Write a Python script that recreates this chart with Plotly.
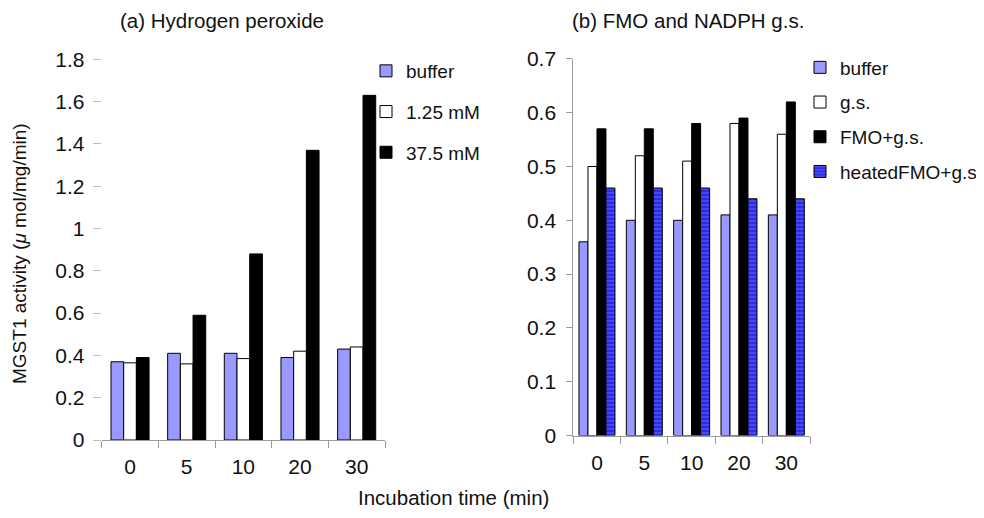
import plotly.graph_objects as go

# ---------------- data ----------------
times = ["0", "5", "10", "20", "30"]

# (a) Hydrogen peroxide
h2o2_buffer = [0.37, 0.41, 0.41, 0.39, 0.43]
h2o2_125 = [0.365, 0.36, 0.385, 0.42, 0.44]
h2o2_375 = [0.39, 0.59, 0.88, 1.37, 1.63]

# (b) FMO and NADPH g.s.
fmo_buffer = [0.36, 0.40, 0.40, 0.41, 0.41]
fmo_gs = [0.50, 0.52, 0.51, 0.58, 0.56]
fmo_fmo_gs = [0.57, 0.57, 0.58, 0.59, 0.62]
fmo_heated = [0.46, 0.46, 0.46, 0.44, 0.44]

ticks_a = [0, 0.2, 0.4, 0.6, 0.8, 1, 1.2, 1.4, 1.6, 1.8]
ticks_b = [0, 0.1, 0.2, 0.3, 0.4, 0.5, 0.6, 0.7]

W, H = 984, 518
OFF = 8  # page body margin of the html page
FONT = "Liberation Sans, Arial, sans-serif"
LAV = "#9999ff"
BLUE = "#2a2ae6"
GRAY = "#9a9a9a"


def px_x(p):
    return (p - OFF) / W


def px_y(p):
    return 1 - (p - OFF) / H


fig = go.Figure()

# ---- panel (a) ----
wa = 0.224
series_a = [
    ("buffer", h2o2_buffer, LAV, -1.5 * wa),
    ("1.25 mM", h2o2_125, "white", -0.5 * wa),
    ("37.5 mM", h2o2_375, "black", 0.5 * wa),
]
for name, vals, col, off in series_a:
    fig.add_trace(go.Bar(
        x=times, y=vals, name=name, xaxis="x", yaxis="y",
        width=wa, offset=off,
        marker=dict(color=col, line=dict(color="black", width=1)),
        legend="legend", legendgroup="a_" + name,
    ))

# ---- panel (b) ----
wb = 0.19
series_b = [
    ("buffer", fmo_buffer, LAV, -2 * wb, None),
    ("g.s.", fmo_gs, "white", -1 * wb, None),
    ("FMO+g.s.", fmo_fmo_gs, "black", 0, None),
    ("heatedFMO+g.s", fmo_heated, BLUE, wb,
     dict(shape="-", fgcolor="#a8a8ff", bgcolor=BLUE, size=4, solidity=0.25)),
]
for name, vals, col, off, pat in series_b:
    mk = dict(color=col, line=dict(color="black", width=1))
    if pat:
        mk["pattern"] = pat
    fig.add_trace(go.Bar(
        x=times, y=vals, name=name, xaxis="x2", yaxis="y2",
        width=wb, offset=off, marker=mk,
        legend="legend2", legendgroup="b_" + name,
    ))

tickfont = dict(family=FONT, size=21, color="#111")
legfont = dict(family=FONT, size=19, color="#111")
titlefont = dict(family=FONT, size=20.5, color="#111")
ytitlefont = dict(family=FONT, size=19, color="#111")

fig.update_layout(
    width=W, height=H,
    margin=dict(l=0, r=0, t=0, b=0, autoexpand=False),
    paper_bgcolor="white", plot_bgcolor="white",
    barmode="overlay",
    font=dict(family=FONT, size=19, color="#111"),
    xaxis=dict(
        domain=[px_x(101.7), px_x(385)], anchor="y", automargin=False,
        type="category", showgrid=False, showline=True, linecolor=GRAY,
        ticks="outside", tickson="boundaries", ticklen=7, tickcolor=GRAY,
        tickfont=tickfont, ticklabelstandoff=8,
    ),
    yaxis=dict(
        domain=[px_y(440), px_y(59.4)], anchor="x", automargin=False,
        range=[0, 1.8], tickvals=ticks_a,
        ticktext=[f"{v:g}" for v in ticks_a],
        showgrid=False, showline=False, zeroline=False,
        ticks="outside", ticklen=8, tickcolor="#bbbbbb",
        tickfont=tickfont, ticklabelstandoff=4,
    ),
    xaxis2=dict(
        domain=[px_x(573.3), px_x(810)], anchor="y2", automargin=False,
        type="category", showgrid=False, showline=True, linecolor=GRAY,
        ticks="outside", tickson="boundaries", ticklen=7, tickcolor=GRAY,
        tickfont=tickfont, ticklabelstandoff=8,
    ),
    yaxis2=dict(
        domain=[px_y(435.5), px_y(58.9)], anchor="x2", automargin=False,
        range=[0, 0.7], tickvals=ticks_b,
        ticktext=[f"{v:g}" for v in ticks_b],
        showgrid=False, showline=True, linecolor=GRAY, zeroline=False,
        ticks="outside", ticklen=6, tickcolor=GRAY,
        tickfont=tickfont, ticklabelstandoff=6,
    ),
    legend=dict(
        x=px_x(366), y=px_y(52), xanchor="left", yanchor="top",
        font=legfont, bgcolor="rgba(0,0,0,0)",
        tracegroupgap=13, traceorder="grouped",
    ),
    legend2=dict(
        x=px_x(800), y=px_y(48.5), xanchor="left", yanchor="top",
        font=legfont, bgcolor="rgba(0,0,0,0)",
        tracegroupgap=7, traceorder="grouped",
    ),
    annotations=[
        dict(text="(a) Hydrogen peroxide", x=px_x(222), y=px_y(21),
             xref="paper", yref="paper", showarrow=False,
             xanchor="center", yanchor="middle", font=titlefont),
        dict(text="(b) FMO and NADPH g.s.", x=px_x(688), y=px_y(21),
             xref="paper", yref="paper", showarrow=False,
             xanchor="center", yanchor="middle", font=titlefont),
        dict(text="MGST1 activity (<i>μ</i> mol/mg/min)", x=px_x(20), y=px_y(254),
             xref="paper", yref="paper", showarrow=False, textangle=-90,
             xanchor="center", yanchor="middle", font=ytitlefont),
        dict(text="Incubation time (min)", x=px_x(453), y=px_y(497),
             xref="paper", yref="paper", showarrow=False,
             xanchor="center", yanchor="middle", font=titlefont),
    ],
)

fig.write_html("out.html")
